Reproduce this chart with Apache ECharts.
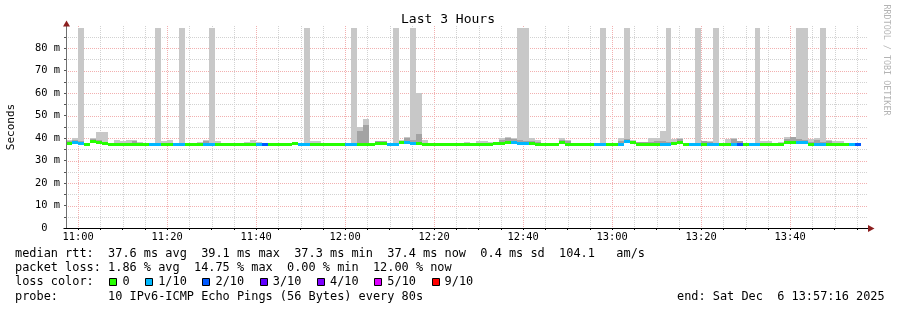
<!DOCTYPE html>
<html><head><meta charset="utf-8">
<script src="https://cdn.jsdelivr.net/npm/echarts@6/dist/echarts.min.js"></script>
<style>html,body{margin:0;padding:0;background:#fff}#c{width:897px;height:310px}</style>
</head><body><div id="c"></div>
<script>
// ---------- data ----------
const titleText = 'Last 3 Hours';
const yAxisTitle = 'Seconds';
const watermark = 'RRDTOOL / TOBI OETIKER';
const startTime = '10:57:16';
const endTime = '13:57:16';
const firstStepStart = '10:56:00';
const stepSeconds = 80;
const xTickLabels = ['11:00','11:20','11:40','12:00','12:20','12:40','13:00','13:20','13:40'];
const yTickValues = [0,10,20,30,40,50,60,70,80];
const yTickLabels = ['0  ','10 m','20 m','30 m','40 m','50 m','60 m','70 m','80 m'];
const yMax = 88.9;

// per 80 s step (ms): median rtt, lost pings, top of smoke, top of dense smoke
const median = [37.6,37.6,37.8,37.7,37.2,38.6,38.2,37.7,37.1,37.1, 37.1,37.1,37.2,37.1,37.1,37.1,37.1,37.2,37.2,37.1,
 37.1,37.2,37.2,37.3,37.3,37.2,37.3,37.2,37.3,37.3, 37.2,37.2,37.2,37.2,37.2,37.2,37.2,37.2,37.2,37.4,
 37.1,37.1,37.2,37.2,37.2,37.2,37.2,37.2,37.1,37.1, 37.3,37.1,37.2,37.6,37.6,37.1,37.1,38.0,38.2,37.6,
 37.4,37.3,37.2,37.2,37.2,37.2,37.2,37.2,37.2,37.2, 37.2,37.2,37.3,37.4,37.6,38.0,38.0,37.5,37.5,37.4,
 37.2,37.1,37.1,37.1,37.8,37.3,37.2,37.2,37.2,37.2, 37.1,37.1,37.2,37.0,37.2,38.3,37.9,37.3,37.3,37.3,
 37.3,37.2,37.2,37.7,38.0,37.3,37.1,37.1,37.3,37.2, 37.1,36.9,37.2,37.3,37.2,37.2,37.0,37.1,37.3,37.1,
 36.9,37.2,37.8,37.8,38.2,38.0,37.3,37.3,37.2,37.3, 37.3,37.2,37.2,37.2,37.1];
const lossCount = [0,0,1,1,0,0,0,0,0,0, 0,0,0,0,0,1,1,0,0,1,
 1,0,0,0,1,1,0,0,0,0, 0,0,0,1,2,0,0,0,0,0,
 1,1,0,0,0,0,0,0,1,1, 0,0,0,0,0,1,1,0,1,1,
 0,0,0,0,0,0,0,0,0,0, 0,0,0,0,0,0,1,1,1,0,
 0,0,0,0,0,0,0,0,0,0, 1,1,0,0,1,1,0,0,0,0,
 0,1,1,0,0,0,1,1,0,1, 1,0,0,1,2,0,1,1,0,0,
 0,0,0,0,1,1,0,1,1,0, 0,0,0,1,2];
const smokeHi = [38.6,39.1,40.0,120,37.9,40.0,42.7,42.7,38.0,39.1, 38.5,39.3,39.1,38.2,37.6,37.7,120,38.5,39.1,37.6,
 120,37.8,37.7,38.2,39.1,120,38.6,37.8,37.7,37.7, 37.6,38.2,39.1,38.2,37.8,37.6,37.6,37.6,37.8,38.3,
 37.6,120,38.5,38.6,37.6,37.6,37.6,37.6,37.6,120, 45.0,48.4,37.6,38.8,38.8,37.6,120,39.1,40.5,120,
 60.0,39.1,37.6,37.6,37.6,37.6,37.6,37.6,38.2,37.8, 38.6,38.6,38.2,38.2,40.0,40.4,40.0,120,120,40.0,
 39.3,37.6,37.6,37.8,40.0,39.1,37.6,37.6,37.6,37.6, 37.6,120,37.8,37.6,40.0,120,39.1,38.2,38.2,40.0,
 40.0,43.1,120,39.4,40.0,38.0,37.6,120,38.5,38.8, 120,37.5,39.4,40.0,38.5,37.8,37.6,120,38.8,38.5,
 37.5,38.2,40.3,40.6,120,120,39.7,40.0,120,39.1, 38.8,38.5,37.6,37.6,37.6];
const smokeMid = [38.6,38.6,39.2,38.6,37.9,39.4,39.0,38.4,37.6,37.6, 37.6,37.6,38.6,37.6,37.4,37.5,37.6,37.7,37.8,37.4,
 37.5,37.5,37.5,37.8,38.5,37.8,37.9,37.5,37.5,37.5, 37.4,37.6,37.8,37.6,37.5,37.4,37.4,37.4,37.5,38.1,
 37.4,37.6,37.6,37.6,37.4,37.4,37.4,37.4,37.4,37.6, 43.1,45.8,37.4,38.8,38.8,37.4,37.6,38.6,40.2,39.0,
 41.8,38.0,37.4,37.4,37.4,37.4,37.4,37.4,37.6,37.5, 37.6,37.6,37.6,37.8,39.1,40.2,39.6,39.0,38.6,38.8,
 38.2,37.4,37.4,37.5,39.0,38.6,37.4,37.4,37.4,37.4, 37.4,37.6,37.5,37.4,38.6,39.6,38.8,38.2,38.2,38.2,
 38.6,38.6,38.2,38.4,39.5,37.7,37.4,37.6,38.5,38.4, 37.6,37.3,37.8,39.4,38.5,37.5,37.4,37.6,37.8,37.6,
 37.3,37.6,39.6,40.3,39.6,39.2,38.2,39.0,38.4,38.8, 38.0,37.8,37.4,37.4,37.4];

const lossLabels = ['0','1/10','2/10','3/10','4/10','5/10','9/10'];
const lossCounts = [0,1,2,3,4,5,9];
const lossColors = ['#26ff00','#00b8ff','#0059ff','#5e00ff','#7e00ff','#dd00ff','#ff0000'];

const rttLine = 'median rtt:  37.6 ms avg  39.1 ms max  37.3 ms min  37.4 ms now  0.4 ms sd  104.1   am/s';
const lossLine = 'packet loss: 1.86 % avg  14.75 % max  0.00 % min  12.00 % now';
const colorLine = 'loss color:';
const probeLine = 'probe:       10 IPv6-ICMP Echo Pings (56 Bytes) every 80s';
const endLine = 'end: Sat Dec  6 13:57:16 2025';

// ---------- helpers ----------
function toSec(s){ const p = s.split(':').map(Number); return p[0]*3600 + p[1]*60 + (p[2]||0); }
function fmt(v){ const h = Math.floor(v/3600), m = Math.floor((v%3600)/60); return (h<10?'0':'')+h+':'+(m<10?'0':'')+m; }
const xMin = toSec(startTime), xMax = toSec(endTime);
const xLabelValues = xTickLabels.map(toSec);
const xMinorValues = [];
for (let v = Math.ceil(xMin/300)*300; v <= xMax; v += 300) xMinorValues.push(v);
const yMinorValues = [];
for (let v = 0; v < yMax; v += 5) yMinorValues.push(v);

const t0 = toSec(firstStepStart);
const stepData = median.map((m, k) => [t0 + k*stepSeconds, m, smokeHi[k], smokeMid[k], lossCount[k]]);

const gridData = [];
xMinorValues.forEach(v => gridData.push([v, v % 1200 === 0 ? 1 : 0, 0]));
yMinorValues.forEach(v => { if (v > 0) gridData.push([v, v % 10 === 0 ? 1 : 0, 1]); });

const MONO = '"DejaVu Sans Mono", monospace';
const chart = echarts.init(document.getElementById('c'), null, {renderer:'canvas'});

function renderGrid(params, api){
  const cs = params.coordSys;
  const v = api.value(0), major = api.value(1), dir = api.value(2);
  const stroke = major ? '#f2b0b0' : '#d2d2d2';
  if (dir === 0){
    const x = Math.round(api.coord([v, 0])[0]) + 0.5;
    return {type:'line', shape:{x1:x, y1:cs.y - 2, x2:x, y2:cs.y + cs.height}, style:{stroke, lineWidth:1, lineDash:[1,1]}};
  }
  const y = Math.round(api.coord([xMin, v])[1]) + 0.5;
  return {type:'line', shape:{x1:cs.x, y1:y, x2:cs.x + cs.width, y2:y}, style:{stroke, lineWidth:1, lineDash:[1,1]}};
}

function renderStep(params, api){
  const cs = params.coordSys;
  const t = api.value(0), med = api.value(1), hi = api.value(2), mid = api.value(3), loss = api.value(4);
  let xa = Math.round(api.coord([t, med])[0]);
  let xb = Math.round(api.coord([t + stepSeconds, med])[0]);
  xa = Math.max(xa, Math.round(cs.x) + 1);
  xb = Math.min(xb, Math.round(cs.x + cs.width));
  if (xb <= xa) return null;
  const yMed = api.coord([t, med])[1];
  const yHi = Math.max(api.coord([t, hi])[1], cs.y);
  const yMid = Math.max(api.coord([t, mid])[1], cs.y);
  const ch = [];
  if (hi > med) ch.push({type:'rect', shape:{x:xa, y:Math.round(yHi), width:xb-xa, height:Math.round(yMed)-Math.round(yHi)}, style:{fill:'#c8c8c8'}});
  if (mid > med) ch.push({type:'rect', shape:{x:xa, y:Math.round(yMid), width:xb-xa, height:Math.round(yMed)-Math.round(yMid)}, style:{fill:'#a3a3a3'}});
  const ci = lossCounts.indexOf(loss);
  ch.push({type:'rect', shape:{x:xa, y:Math.round(yMed - 1.5), width:xb-xa, height:3}, style:{fill:lossColors[ci]}});
  return {type:'group', children:ch};
}

chart.setOption({
  animation:false,
  backgroundColor:'#ffffff',
  grid:{left:66, right:30, top:28, bottom:82},
  xAxis:{type:'value', min:xMin, max:xMax,
    axisLine:{show:false}, splitLine:{show:false},
    axisTick:{show:true, customValues:xMinorValues, length:2, lineStyle:{color:'#000'}},
    axisLabel:{customValues:xLabelValues, formatter:v => fmt(v), margin:4, fontFamily:MONO, fontSize:10.4, color:'#000'}},
  yAxis:{type:'value', min:0, max:yMax,
    axisLine:{show:false}, splitLine:{show:false},
    axisTick:{show:true, customValues:yMinorValues, length:2, lineStyle:{color:'#555'}},
    axisLabel:{customValues:yTickValues, formatter:v => yTickLabels[yTickValues.indexOf(Math.round(v))] || '', margin:6, fontFamily:MONO, fontSize:10.4, color:'#000'}},
  series:[
    {type:'custom', name:'grid', renderItem:renderGrid, data:gridData, z:1, silent:true},
    {type:'custom', name:'smoke', renderItem:renderStep, data:stepData, z:2, clip:true, silent:true}
  ]
});

// ---------- decorations: axes lines, arrows, texts ----------
const o = chart.convertToPixel({gridIndex:0}, [xMin, 0]);
const r = chart.convertToPixel({gridIndex:0}, [xMax, 0]);
const tp = chart.convertToPixel({gridIndex:0}, [xMin, yMax]);
const ox = Math.round(o[0]) + 0.5, oy = Math.round(o[1]) + 0.5;
const arrowCol = '#8c1f1f';
const g = [];
g.push({type:'line', shape:{x1:ox, y1:oy, x2:ox, y2:tp[1]-5}, style:{stroke:'#707070', lineWidth:1}, z:10});
g.push({type:'line', shape:{x1:ox-3, y1:oy, x2:r[0]+4, y2:oy}, style:{stroke:'#000', lineWidth:1}, z:10});
g.push({type:'polygon', shape:{points:[[ox-3.5, tp[1]-1.5],[ox+3.5, tp[1]-1.5],[ox, tp[1]-7.5]]}, style:{fill:arrowCol}, z:11});
g.push({type:'polygon', shape:{points:[[r[0]+1, oy-3.5],[r[0]+1, oy+3.5],[r[0]+7.5, oy]]}, style:{fill:arrowCol}, z:11});

g.push({type:'text', x:448, y:19.5, style:{text:titleText, font:'13px ' + MONO, fill:'#000', align:'center', verticalAlign:'middle'}});
g.push({type:'text', x:11, y:127, rotation:Math.PI/2, style:{text:yAxisTitle, font:'11px ' + MONO, fill:'#000', align:'center', verticalAlign:'middle'}});
g.push({type:'text', x:886, y:60, rotation:-Math.PI/2, style:{text:watermark, font:'8.4px ' + MONO, fill:'#b4b4b4', align:'center', verticalAlign:'middle'}});

const LF = '11.9px ' + MONO, CW = 7.16, LX = 15;
g.push({type:'text', x:LX, y:254, style:{text:rttLine, font:LF, fill:'#000', align:'left', verticalAlign:'middle'}});
g.push({type:'text', x:LX, y:268, style:{text:lossLine, font:LF, fill:'#000', align:'left', verticalAlign:'middle'}});
g.push({type:'text', x:LX, y:282, style:{text:colorLine, font:LF, fill:'#000', align:'left', verticalAlign:'middle'}});
g.push({type:'text', x:LX, y:296.5, style:{text:probeLine, font:LF, fill:'#000', align:'left', verticalAlign:'middle'}});
g.push({type:'text', x:677, y:296.5, style:{text:endLine, font:LF, fill:'#000', align:'left', verticalAlign:'middle'}});
let idx = 13;
lossLabels.forEach((lab, i) => {
  const sx = Math.round(LX + idx*CW + 1.3) + 0.5;
  g.push({type:'rect', shape:{x:sx, y:278.5, width:7, height:7}, style:{fill:lossColors[i], stroke:'#000', lineWidth:1}});
  g.push({type:'text', x:LX + (idx+2)*CW, y:282, style:{text:lab, font:LF, fill:'#000', align:'left', verticalAlign:'middle'}});
  idx += 2 + lab.length + 2;
});
chart.setOption({graphic:g});
</script></body></html>
